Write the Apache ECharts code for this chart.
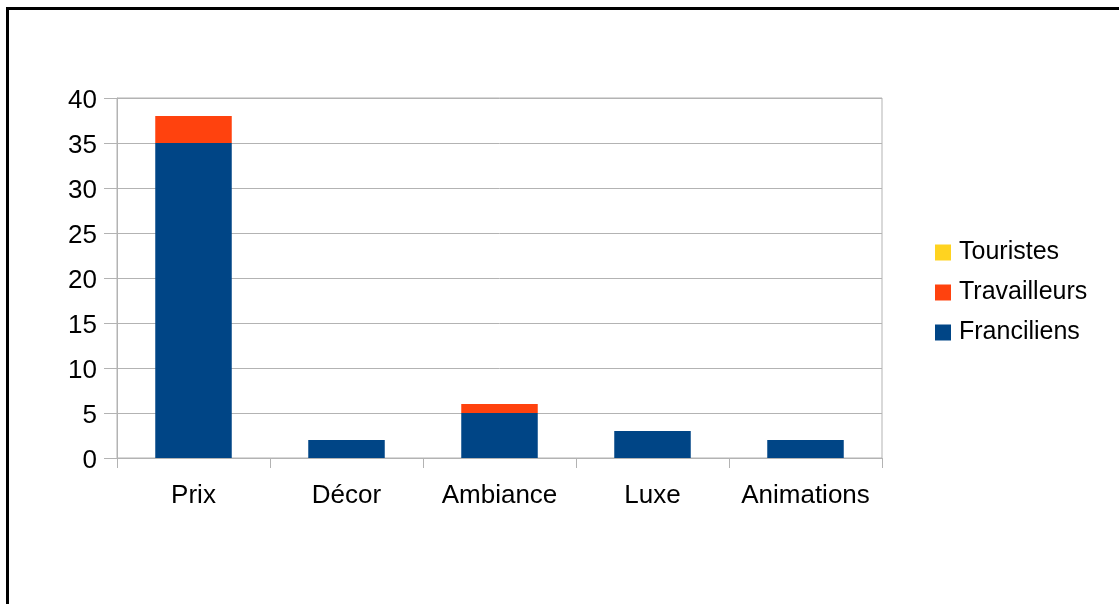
<!DOCTYPE html>
<html>
<head>
<meta charset="utf-8">
<script src="https://cdn.jsdelivr.net/npm/echarts@6/dist/echarts.min.js"></script>
<style>
  html, body { margin: 0; padding: 0; background: #fff; }
  #chart { width: 1119px; height: 604px; }
</style>
</head>
<body>
<div id="chart"></div>
<script>
const categories = ["Prix", "Décor", "Ambiance", "Luxe", "Animations"];
const franciliens = [35, 2, 5, 3, 2];
const travailleurs = [3, 0, 1, 0, 0];
const touristes = [0, 0, 0, 0, 0];
const legendOrder = ["Touristes", "Travailleurs", "Franciliens"];

const fontFamily = "Liberation Sans";
const gridColor = "#b3b3b3";

const chart = echarts.init(document.getElementById("chart"));

chart.setOption({
  animation: false,
  color: ["#004586", "#ff420e", "#ffd320"],
  textStyle: { fontFamily: fontFamily },
  graphic: [
    {
      // black frame, only the top and left edges fall inside the picture
      type: "rect",
      shape: { x: 7.5, y: 8.5, width: 1300, height: 800 },
      style: { fill: "none", stroke: "#000", lineWidth: 3 },
      z: 100
    }
  ],
  grid: {
    left: 117,
    right: 237,
    top: 98,
    bottom: 146,
    show: true,
    borderColor: gridColor,
    borderWidth: 1
  },
  legend: {
    orient: "vertical",
    left: 935,
    top: 240,
    padding: 0,
    itemWidth: 16,
    itemHeight: 16,
    itemGap: 15,
    icon: "rect",
    data: legendOrder,
    textStyle: { fontSize: 25, color: "#000", fontFamily: fontFamily, padding: [0, 0, 0, 3] }
  },
  xAxis: {
    type: "category",
    data: categories,
    axisLine: { lineStyle: { color: gridColor } },
    axisTick: { show: true, interval: 0, length: 10, lineStyle: { color: gridColor } },
    axisLabel: { interval: 0, color: "#000", fontSize: 26, margin: 25, fontFamily: fontFamily }
  },
  yAxis: {
    type: "value",
    min: 0,
    max: 40,
    interval: 5,
    axisLine: { show: true, lineStyle: { color: gridColor } },
    axisTick: { show: true, length: 13, lineStyle: { color: gridColor } },
    splitLine: { lineStyle: { color: gridColor } },
    axisLabel: {
      color: "#000",
      margin: 20,
      formatter: "{v|{value}}",
      rich: {
        v: { fontSize: 26, fontFamily: fontFamily, color: "#000", lineHeight: 26, padding: [5, 0, 0, 0] }
      }
    }
  },
  series: [
    { name: "Franciliens", type: "bar", stack: "total", barWidth: "50%", data: franciliens },
    { name: "Travailleurs", type: "bar", stack: "total", data: travailleurs },
    { name: "Touristes", type: "bar", stack: "total", data: touristes }
  ]
});
</script>
</body>
</html>
